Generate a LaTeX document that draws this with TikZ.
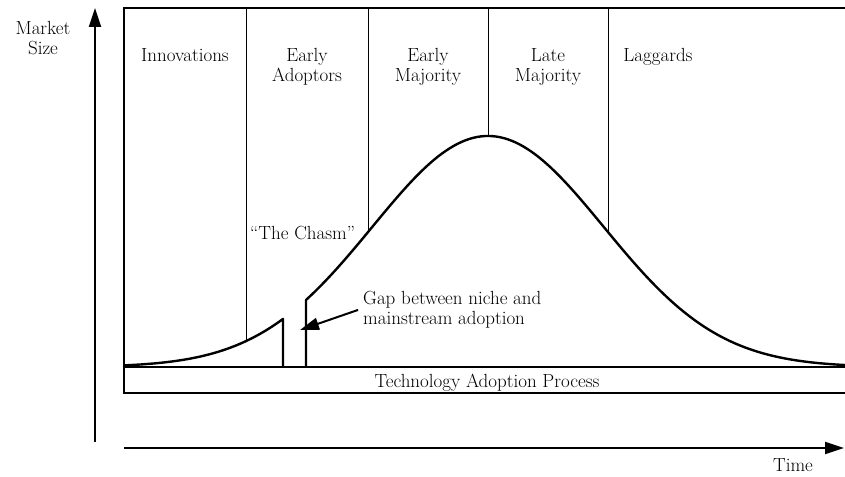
\documentclass[tikz,border=0pt]{standalone}
\usepackage{tikz}
\usetikzlibrary{arrows.meta,positioning}
\newcommand{\bellY}[1]{367-231*exp(-(((#1-488)/100)^2)/2.677)}

\begin{document}
\begin{tikzpicture}[x=1pt,y=-1pt,>={Triangle[length=19pt,width=12pt]},
     lbl/.style={font=\fontsize{19}{20.5}\selectfont, align=center, inner sep=0pt},
     frame/.style={line width=2pt},
     divider/.style={line width=1pt},
     curve/.style={line width=2.4pt, line join=round},
     axis/.style={line width=2pt, ->}]
    \useasboundingbox (0,0) rectangle (845,476);
    % box and band
    \draw[frame] (846,8) -- (124,8) -- (124,393) -- (846,393);
    \draw[frame] (124,367) -- (846,367);
    % dividers
    \draw[divider] (246,8) -- (246,{\bellY{246}});
    \draw[divider] (368,8) -- (368,{\bellY{368}});
    \draw[divider] (488,8) -- (488,{\bellY{488}});
    \draw[divider] (608,8) -- (608,{\bellY{608}});
    % the curve, with the gap
    \draw[curve] plot[domain=124:283, samples=60] (\x,{\bellY{\x}}) -- (283,367);
    \draw[curve] (306,367) -- plot[domain=306:846, samples=140] (\x,{\bellY{\x}});
    % labels
    \node[lbl, anchor=north] (innov) at (185,48) {Innovations};
    \node[lbl, anchor=north] (early) at (307,48) {Early\\Adoptors};
    \node[lbl, anchor=north] (emaj) at (428,48) {Early\\Majority};
    \node[lbl, anchor=north] (lmaj) at (548,48) {Late\\Majority};
    \node[lbl, anchor=north] (lagg) at (658,48) {Laggards};
    \node[lbl, anchor=base west] (chasm) at (250,239) {``The Chasm''};
    \node[lbl, align=left, inner xsep=5pt, anchor=north west] (gap) at (358,291) {Gap between niche and\\mainstream adoption};
    \node[lbl, anchor=base] (tap) at (487,387) {Technology Adoption Process};
    \node[lbl, anchor=north] (msize) at (43,21) {Market\\Size};
    \node[lbl, anchor=north] (time) at (793,458) {Time};
    \coordinate (gaptip) at (300,330);
    \draw[curve, ->, line width=2pt] (gap.west) -- (gaptip);
    % axes
    \coordinate (ybot) at (95,442);
    \coordinate (ytop) at (95,8);
    \coordinate (tleft) at (124,448);
    \coordinate (tright) at (844,448);
    \draw[axis] (ybot) -- (ytop);
    \draw[axis] (tleft) -- (tright);
\end{tikzpicture}
\end{document}
